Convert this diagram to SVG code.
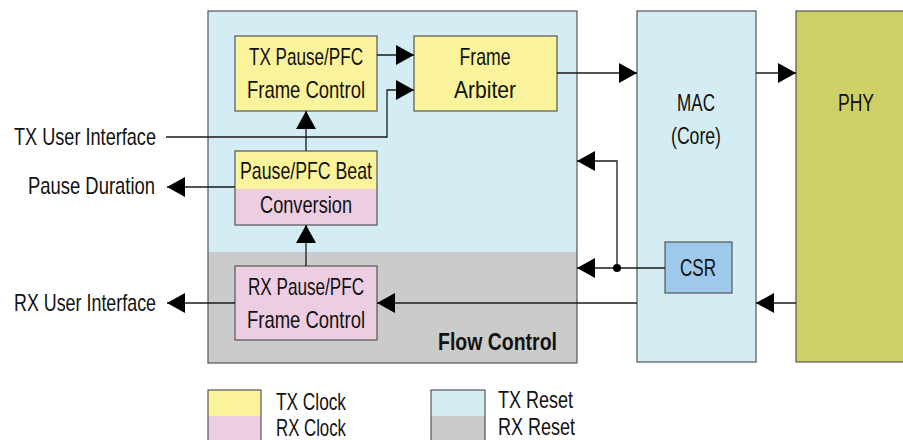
<svg xmlns="http://www.w3.org/2000/svg" width="903" height="440" viewBox="0 0 903 440">
<style>
text{font-family:"Liberation Sans",Arial,sans-serif;font-size:24px;fill:#111}
.b{font-weight:bold}
.m{text-anchor:middle}
.e{text-anchor:end}
.box{stroke:#555;stroke-width:1.2}
.ln{fill:none;stroke:#1a1a1a;stroke-width:1.3}
</style>
<defs>
<marker id="ah" markerUnits="userSpaceOnUse" markerWidth="18" markerHeight="20" refX="18" refY="10" orient="auto">
<path d="M0,0 L18,10 L0,20 z" fill="#000"/>
</marker>
</defs>
<g id="flow-control">
<rect x="208" y="11" width="369" height="241" fill="#d4ecf3"/>
<rect x="208" y="252" width="369" height="111" fill="#cbcbcb"/>
<rect x="208" y="11" width="369" height="352" fill="none" class="box"/>
<text x="557" y="350" class="b e" textLength="119" lengthAdjust="spacingAndGlyphs">Flow Control</text>
</g>
<g id="tx-pause">
<rect x="235" y="36" width="142" height="75" fill="#fbf39b" class="box"/>
<text x="306" y="65" class="m" textLength="114" lengthAdjust="spacingAndGlyphs">TX Pause/PFC</text>
<text x="306" y="98" class="m" textLength="118" lengthAdjust="spacingAndGlyphs">Frame Control</text>
</g>
<g id="frame-arbiter">
<rect x="414" y="36" width="143" height="75" fill="#fbf39b" class="box"/>
<text x="485" y="65" class="m" textLength="51" lengthAdjust="spacingAndGlyphs">Frame</text>
<text x="485" y="98" class="m" textLength="62" lengthAdjust="spacingAndGlyphs">Arbiter</text>
</g>
<g id="beat-conversion">
<rect x="235" y="151" width="142" height="38" fill="#fbf39b"/>
<rect x="235" y="189" width="142" height="36" fill="#eccde1"/>
<rect x="235" y="151" width="142" height="74" fill="none" class="box"/>
<text x="306" y="179" class="m" textLength="132" lengthAdjust="spacingAndGlyphs">Pause/PFC Beat</text>
<text x="306" y="213" class="m" textLength="92" lengthAdjust="spacingAndGlyphs">Conversion</text>
</g>
<g id="rx-pause">
<rect x="235" y="266" width="142" height="74" fill="#eccde1" class="box"/>
<text x="306" y="295" class="m" textLength="116" lengthAdjust="spacingAndGlyphs">RX Pause/PFC</text>
<text x="306" y="328" class="m" textLength="118" lengthAdjust="spacingAndGlyphs">Frame Control</text>
</g>
<g id="mac">
<rect x="637" y="11" width="119" height="351" fill="#d4ecf3" class="box"/>
<text x="696" y="111" class="m" textLength="38" lengthAdjust="spacingAndGlyphs">MAC</text>
<text x="696" y="144" class="m" textLength="50" lengthAdjust="spacingAndGlyphs">(Core)</text>
</g>
<g id="csr">
<rect x="665" y="242" width="67" height="51" fill="#9fc9ea" class="box"/>
<text x="698" y="276" class="m" textLength="36" lengthAdjust="spacingAndGlyphs">CSR</text>
</g>
<g id="phy">
<rect x="796" y="11" width="112" height="351" fill="#cfcf67" class="box"/>
<text x="856" y="111" class="m" textLength="36" lengthAdjust="spacingAndGlyphs">PHY</text>
</g>
<g id="labels">
<text x="156" y="145" class="e" textLength="142" lengthAdjust="spacingAndGlyphs">TX User Interface</text>
<text x="155" y="194" class="e" textLength="127" lengthAdjust="spacingAndGlyphs">Pause Duration</text>
<text x="156" y="311" class="e" textLength="142" lengthAdjust="spacingAndGlyphs">RX User Interface</text>
</g>
<g id="connectors">
<path class="ln" d="M377,55 H414" marker-end="url(#ah)"/>
<path class="ln" d="M166,137 H387 V90 H414" marker-end="url(#ah)"/>
<path class="ln" d="M306,151 V111" marker-end="url(#ah)"/>
<path class="ln" d="M235,187 H167" marker-end="url(#ah)"/>
<path class="ln" d="M306,266 V225" marker-end="url(#ah)"/>
<path class="ln" d="M235,303 H167" marker-end="url(#ah)"/>
<path class="ln" d="M557,73 H637" marker-end="url(#ah)"/>
<path class="ln" d="M756,73 H796" marker-end="url(#ah)"/>
<path class="ln" d="M796,303 H756" marker-end="url(#ah)"/>
<path class="ln" d="M637,303 H377" marker-end="url(#ah)"/>
<path class="ln" d="M665,268 H577" marker-end="url(#ah)"/>
<path class="ln" d="M617,268 V161 H577" marker-end="url(#ah)"/>
<circle cx="617" cy="268" r="4" fill="#000"/>
</g>
<g id="legend">
<rect x="208" y="390" width="53" height="26" fill="#fbf39b"/>
<rect x="208" y="416" width="53" height="30" fill="#eccde1"/>
<rect x="208" y="390" width="53" height="56" fill="none" class="box"/>
<text x="276" y="410" textLength="70" lengthAdjust="spacingAndGlyphs">TX Clock</text>
<text x="276" y="436" textLength="70" lengthAdjust="spacingAndGlyphs">RX Clock</text>
<rect x="431" y="390" width="54" height="26" fill="#d4ecf3"/>
<rect x="431" y="416" width="54" height="30" fill="#cbcbcb"/>
<rect x="431" y="390" width="54" height="56" fill="none" class="box"/>
<text x="498" y="408" textLength="75" lengthAdjust="spacingAndGlyphs">TX Reset</text>
<text x="498" y="435" textLength="77" lengthAdjust="spacingAndGlyphs">RX Reset</text>
</g>
</svg>
